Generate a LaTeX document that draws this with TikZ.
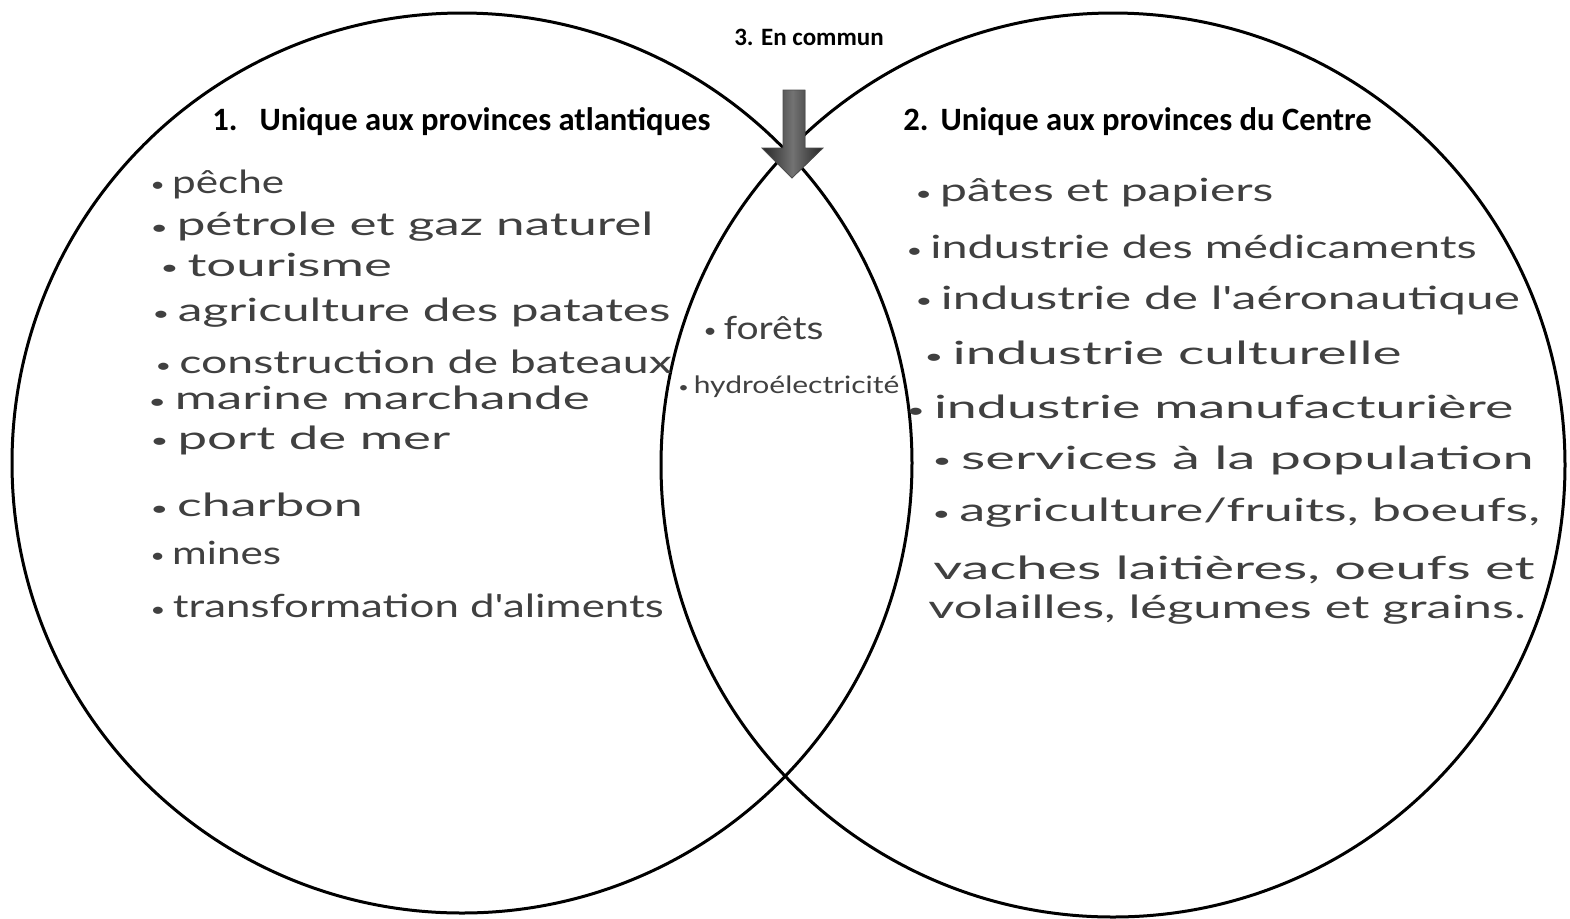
\documentclass[tikz,border=0pt]{standalone}
\usepackage{fontspec}
\newfontfamily\titlefont{Carlito}
\newfontfamily\handfont{Lato}
\newcommand\hw[2][1.5]{\scalebox{#1}[1]{#2}}
\newcommand\puce{\raisebox{0.1ex}{\scalebox{0.6}{•}}\,}

\begin{document}
\begin{tikzpicture}[x=0.5pt, y=-0.5pt,
  hand/.style={anchor=west, inner sep=0pt, text=black!75, font=\fontsize{16}{18}\selectfont\handfont},
  head/.style={anchor=west, inner sep=0pt, font=\fontsize{16.3}{18}\selectfont\titlefont\bfseries}]
\useasboundingbox (0,0) rectangle (1570,918);
% les deux cercles
\draw [line width=1.5pt] (462,463) circle [radius=225pt];
\draw [line width=1.5pt] (1113,465) circle [radius=226pt];
% titres
\node [head, anchor=center, font=\fontsize{12.5}{14}\selectfont\titlefont\bfseries] (common) at (809,37) {3. En commun};
\node [head] (atl) at (212,122) {1.\hspace{11pt}Unique aux provinces atlantiques};
\node [head] (ctr) at (903,122) {2.\hspace{6pt}Unique aux provinces du Centre};
% fleche
\fill [left color=black!85, right color=black!85, middle color=black!55, draw=black!70, line width=0.4pt]
  (783,90) -- (805,90) -- (805,148) -- (823,148) -- (792,178) -- (762,148) -- (783,148) -- cycle;
% provinces atlantiques
\node [hand] (peche) at (150,184) {\hw[1.32]{\puce pêche}};
\node [hand] (petrole) at (150,227) {\hw[1.6]{\puce pétrole et gaz naturel}};
\node [hand] (tourisme) at (160,265) {\hw[1.65]{\puce tourisme}};
\node [hand] (patates) at (152,313) {\hw[1.55]{\puce agriculture des patates}};
\node [hand] (bateaux) at (155,362) {\hw[1.45]{\puce construction de bateaux}};
\node [hand] (marine) at (148,398) {\hw[1.6]{\puce marine marchande}};
\node [hand] (port) at (150,440) {\hw[1.65]{\puce port de mer}};
\node [hand] (charbon) at (150,505) {\hw[1.62]{\puce charbon}};
\node [hand] (mines) at (150,553) {\hw[1.32]{\puce mines}};
\node [hand] (aliments) at (150,606) {\hw[1.37]{\puce transformation d'aliments}};
% en commun
\node [hand] (forets) at (703,328) {\hw[1.22]{\puce forêts}};
\node [hand, font=\fontsize{12}{14}\selectfont\handfont] (hydro) at (678,387) {\hw[1.25]{\puce hydroélectricité}};
% provinces du Centre
\node [hand] (papiers) at (915,193) {\hw[1.5]{\puce pâtes et papiers}};
\node [hand] (medic) at (906,247) {\hw[1.46]{\puce industrie des médicaments}};
\node [hand] (aero) at (915,300) {\hw[1.55]{\puce industrie de l'aéronautique}};
\node [hand] (culture) at (924,353) {\hw[1.72]{\puce industrie culturelle}};
\node [hand] (manuf) at (906,407) {\hw[1.68]{\puce industrie manufacturière}};
\node [hand] (services) at (932,460) {\hw[1.75]{\puce services à la population}};
\node [hand] (agri) at (932,513) {\hw[1.63]{\puce agriculture/fruits, boeufs,}};
\node [hand] (vaches) at (933,570) {\hw[1.75]{vaches laitières, oeufs et}};
\node [hand] (volailles) at (928,610) {\hw[1.58]{volailles, légumes et grains.}};
\end{tikzpicture}
\end{document}
